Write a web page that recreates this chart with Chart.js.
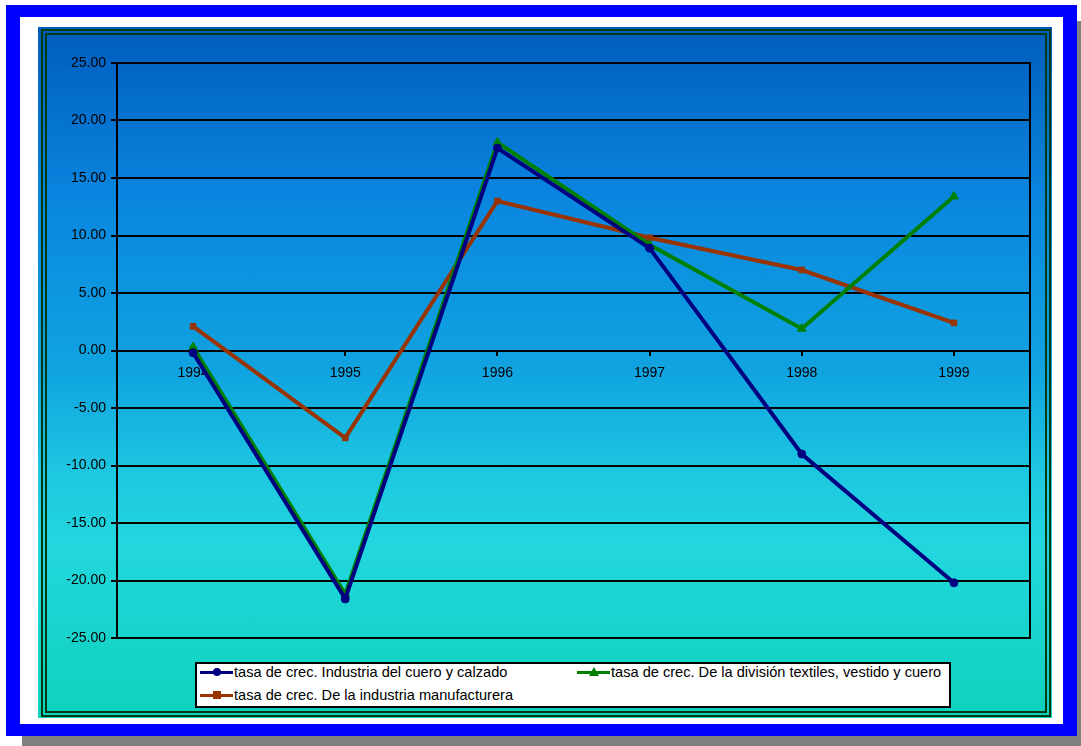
<!DOCTYPE html>
<html>
<head>
<meta charset="utf-8">
<script src="https://cdn.jsdelivr.net/npm/chart.js@4/dist/chart.umd.min.js"></script>
<style>
    body { margin: 0; background: #ffffff; width: 1081px; height: 746px; overflow: hidden; font-family: 'Liberation Sans', Arial, sans-serif; }
    .abs { position: absolute; box-sizing: border-box; }
    #shadow { left: 22px; top: 21px; width: 1059px; height: 725px; background: #808080; }
    #frame { left: 6px; top: 5px; width: 1071px; height: 731px; background: #ffffff;
        border-style: solid; border-color: #0000ff; border-width: 12px 14px 12px 14px; }
    #plotbg { left: 38px; top: 27px; width: 1014px; height: 691px;
        background: linear-gradient(to bottom, #005cbe 0%, #0a86df 25%, #10a4e0 50%, #1ec8e0 65%, #22d6de 75%, #0ed2bc 100%); }
    #line1 { left: 41px; top: 29px; width: 1010px; height: 688px; border: 2px solid #063a12; }
    #line2 { left: 45px; top: 33px; width: 1002px; height: 680px; border: 2px solid #063a12; }
    #chart { position: absolute; left: 0; top: 0; }
    #legend { left: 195px; top: 662px; width: 756px; height: 46px; background: #ffffff; border: 2px solid #000000; }
    .item { position: absolute; font-size: 14.6px; color: #000000; line-height: 16px; white-space: nowrap; }
    .sym { position: absolute; width: 33px; height: 3px; }
    .mk { position: absolute; }
</style>
</head>
<body>
<div id="shadow" class="abs"></div>
<div id="frame" class="abs"></div>
<div id="plotbg" class="abs"></div>
<div id="line1" class="abs"></div>
<div id="line2" class="abs"></div>
<canvas id="chart" width="1081" height="746"></canvas>
<div id="legend" class="abs"></div>
<div id="legend-items"></div>

<script>
// Données du graphique
var years = ['1994', '1995', '1996', '1997', '1998', '1999'];
var seriesNames = [
    'tasa de crec. Industria del cuero y calzado',
    'tasa de crec. De la división textiles, vestido y cuero',
    'tasa de crec. De la industria manufacturera'
];
var cueroCalzado = [-0.2, -21.6, 17.6, 8.9, -9.0, -20.2];
var textiles = [0.3, -21.2, 18.1, 9.2, 1.9, 13.4];
var manufacturera = [2.1, -7.6, 13.0, 9.8, 7.0, 2.4];
var yMin = -25, yMax = 25, yStep = 5;

var colors = ['#000080', '#008000', '#993300'];
var markers = ['circle', 'triangle', 'rect'];
var values = [cueroCalzado, textiles, manufacturera];

var fontFamily = "'Liberation Sans', Arial, sans-serif";

// Cadre noir autour de la zone de tracé
var plotBorder = {
    id: 'plotBorder',
    beforeDatasetsDraw: function(chart) {
        var a = chart.chartArea;
        var ctx = chart.ctx;
        ctx.save();
        ctx.strokeStyle = '#000000';
        ctx.lineWidth = 2;
        ctx.strokeRect(a.left, a.top, a.right - a.left, a.bottom - a.top);
        ctx.restore();
    }
};

var datasets = values.map(function(v, i) {
    return {
        label: seriesNames[i],
        data: v,
        borderColor: colors[i],
        backgroundColor: colors[i],
        borderWidth: 4,
        pointStyle: markers[i],
        pointRadius: i === 1 ? 5 : 4,
        pointBorderWidth: 1,
        tension: 0,
        fill: false
    };
});

var ctx = document.getElementById('chart').getContext('2d');
new Chart(ctx, {
    type: 'line',
    data: { labels: years, datasets: datasets },
    options: {
        responsive: false,
        animation: false,
        layout: { padding: { left: 38, top: 63, right: 51, bottom: 108 } },
        plugins: { legend: { display: false }, tooltip: { enabled: false } },
        scales: {
            x: {
                position: { y: 0 },
                offset: true,
                grid: { drawOnChartArea: false, color: '#000000', lineWidth: 2, tickLength: 5 },
                border: { display: false },
                ticks: { color: '#000000', padding: 9, font: { family: fontFamily, size: 14 }, maxRotation: 0 }
            },
            y: {
                min: yMin,
                max: yMax,
                afterFit: function(scale) { scale.width = 79; },
                grid: { color: '#000000', lineWidth: 2, tickLength: 6 },
                border: { color: '#000000', width: 2 },
                ticks: {
                    stepSize: yStep,
                    color: '#000000',
                    padding: 5,
                    font: { family: fontFamily, size: 14 },
                    callback: function(value) { return value.toFixed(2); }
                }
            }
        }
    },
    plugins: [plotBorder]
});

// Légende HTML
function $id(id) { return document.getElementById(id); }
var legendPos = [[200, 664], [577, 664], [200, 687]];
var holder = $id('legend-items');
seriesNames.forEach(function(name, i) {
    var x = legendPos[i][0], y = legendPos[i][1];
    var sym = document.createElement('div');
    sym.className = 'sym';
    sym.style.left = x + 'px';
    sym.style.top = (y + 7) + 'px';
    sym.style.background = colors[i];
    holder.appendChild(sym);

    var mk = document.createElement('div');
    mk.className = 'mk';
    if (markers[i] === 'triangle') {
        mk.style.left = (x + 12) + 'px';
        mk.style.top = (y + 3) + 'px';
        mk.style.width = '0';
        mk.style.height = '0';
        mk.style.borderLeft = '5px solid transparent';
        mk.style.borderRight = '5px solid transparent';
        mk.style.borderBottom = '9px solid ' + colors[i];
    } else {
        mk.style.left = (x + 13) + 'px';
        mk.style.top = (y + 4) + 'px';
        mk.style.width = '8px';
        mk.style.height = '8px';
        mk.style.background = colors[i];
        if (markers[i] === 'circle') mk.style.borderRadius = '50%';
    }
    holder.appendChild(mk);

    var txt = document.createElement('div');
    txt.className = 'item';
    txt.style.left = (x + 34) + 'px';
    txt.style.top = y + 'px';
    txt.textContent = name;
    holder.appendChild(txt);
});
</script>
</body>
</html>
